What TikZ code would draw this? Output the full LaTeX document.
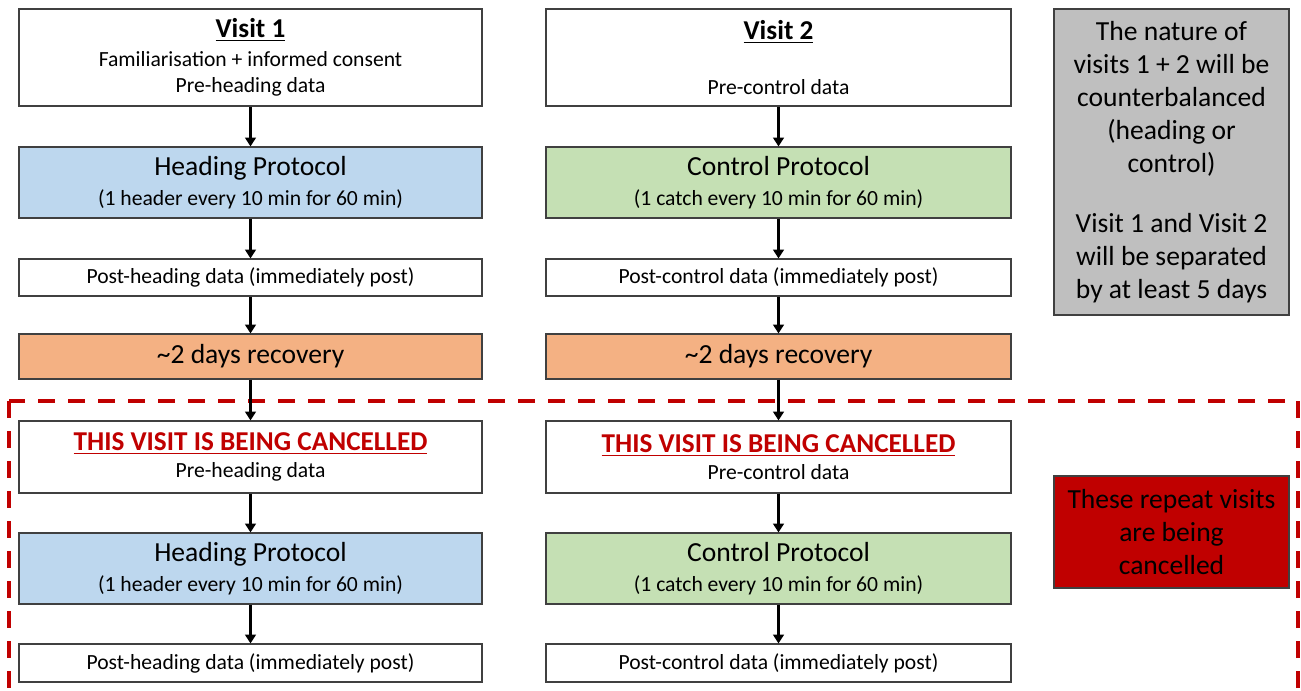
\documentclass[tikz,border=0pt]{standalone}
\usepackage{fontspec}
\setmainfont{Carlito}
\usetikzlibrary{positioning,arrows.meta}

\definecolor{headblue}{HTML}{BDD7EE}
\definecolor{ctrlgreen}{HTML}{C5E0B4}
\definecolor{recorange}{HTML}{F4B183}
\definecolor{notegray}{HTML}{BFBFBF}
\definecolor{cancelred}{HTML}{C00000}

\newcommand{\bigtxt}{\fontsize{15.7}{17}\selectfont}
\newcommand{\titletxt}{\fontsize{15.5}{17}\selectfont\bfseries}

\begin{document}
\begin{tikzpicture}[
	box/.style={draw=black!75, line width=0.6pt, rectangle, minimum width=9.26cm, inner sep=0pt, align=center, font=\fontsize{12.3}{14.8}\selectfont},
	arrow/.style={-{Triangle[length=5pt,width=6pt]}, line width=1.5pt},
	notebox/.style={draw=black!75, line width=0.6pt, rectangle, minimum width=4.7cm, inner sep=0pt, align=center, font=\fontsize{15.7}{18.7}\selectfont}
	]
		\useasboundingbox (0,0) rectangle (26.02,-13.8);
		
		% Left column: visit 1
		\node (v1) [box, minimum height=1.94cm] at (5.01,-1.15) {{\titletxt\underline{Visit 1}}\\[2pt] Familiarisation + informed consent\\ Pre-heading data};
		\node (hp1) [box, fill=headblue, minimum height=1.42cm, below of=v1, node distance=2.5cm] {{\bigtxt Heading Protocol}\\[2pt] (1 header every 10 min for 60 min)};
		\node (post1) [box, minimum height=0.74cm, below of=hp1, node distance=1.9cm] {Post-heading data (immediately post)};
		\node (rec1) [box, fill=recorange, minimum height=0.9cm, below of=post1, node distance=1.58cm] {\bigtxt \textasciitilde 2 days recovery};
		\node (cv1) [box, minimum height=1.44cm, below of=rec1, node distance=2.01cm] {{\titletxt\color{cancelred}\underline{THIS VISIT IS BEING CANCELLED}}\\[0.5pt] Pre-heading data};
		\node (hp1b) [box, fill=headblue, minimum height=1.42cm, below of=cv1, node distance=2.23cm] {{\bigtxt Heading Protocol}\\[2pt] (1 header every 10 min for 60 min)};
		\node (post1b) [box, minimum height=0.76cm, below of=hp1b, node distance=1.89cm] {Post-heading data (immediately post)};
		
		% Right column: visit 2
		\node (v2) [box, minimum width=9.3cm, minimum height=1.94cm, right of=v1, node distance=10.56cm] {{\titletxt\underline{Visit 2}}\\[2pt] \mbox{}\\ Pre-control data};
		\node (cp2) [box, minimum width=9.3cm, fill=ctrlgreen, minimum height=1.42cm, below of=v2, node distance=2.5cm] {{\bigtxt Control Protocol}\\[2pt] (1 catch every 10 min for 60 min)};
		\node (post2) [box, minimum width=9.3cm, minimum height=0.74cm, below of=cp2, node distance=1.9cm] {Post-control data (immediately post)};
		\node (rec2) [box, minimum width=9.3cm, fill=recorange, minimum height=0.9cm, below of=post2, node distance=1.58cm] {\bigtxt \textasciitilde 2 days recovery};
		\node (cv2) [box, minimum width=9.3cm, minimum height=1.44cm, below of=rec2, node distance=2.01cm] {{\titletxt\color{cancelred}\underline{THIS VISIT IS BEING CANCELLED}}\\[0.5pt] Pre-control data};
		\node (cp2b) [box, minimum width=9.3cm, fill=ctrlgreen, minimum height=1.42cm, below of=cv2, node distance=2.23cm] {{\bigtxt Control Protocol}\\[2pt] (1 catch every 10 min for 60 min)};
		\node (post2b) [box, minimum width=9.3cm, minimum height=0.76cm, below of=cp2b, node distance=1.89cm] {Post-control data (immediately post)};
		
		% Side notes
		\node (note) [notebox, fill=notegray, minimum height=6.12cm] at (23.43,-3.24) {The nature of\\ visits 1 + 2 will be\\ counterbalanced\\ (heading or\\ control)\\[0.55cm] Visit 1 and Visit 2\\ will be separated\\ by at least 5 days};
		\node (cancelnote) [notebox, fill=cancelred, minimum height=2.24cm] at (23.43,-10.64) {These repeat visits\\ are being\\ cancelled};
		
		% Cancelled region
		\draw[cancelred, line width=2.3pt, dash pattern=on 0.34cm off 0.26cm] (0.18,-8.02) rectangle (25.96,-14.5);
		
		% Connect the blocks with arrows
		\draw[arrow] (v1) -- (hp1);
		\draw[arrow] (hp1) -- (post1);
		\draw[arrow] (post1) -- (rec1);
		\draw[arrow] (rec1) -- (cv1);
		\draw[arrow] (cv1) -- (hp1b);
		\draw[arrow] (hp1b) -- (post1b);
		\draw[arrow] (v2) -- (cp2);
		\draw[arrow] (cp2) -- (post2);
		\draw[arrow] (post2) -- (rec2);
		\draw[arrow] (rec2) -- (cv2);
		\draw[arrow] (cv2) -- (cp2b);
		\draw[arrow] (cp2b) -- (post2b);
	\end{tikzpicture}
\end{document}
